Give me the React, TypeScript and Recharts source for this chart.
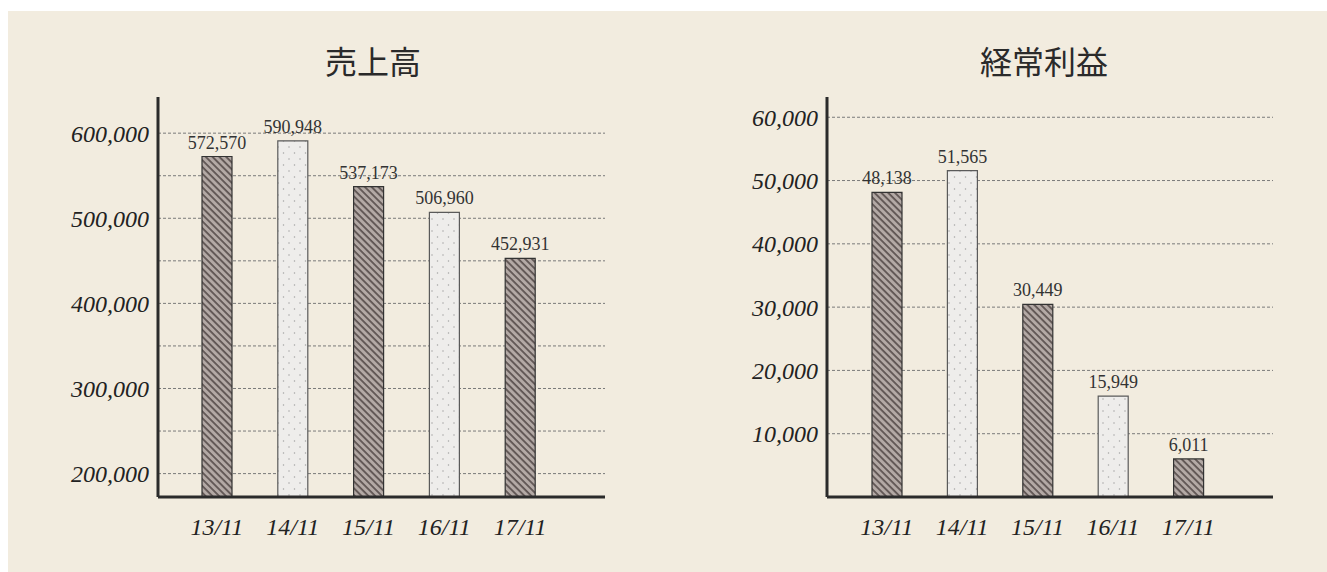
import React from 'react';
import { BarChart, Bar, XAxis, YAxis, CartesianGrid, Cell, LabelList } from 'recharts';

const categories = ['13/11', '14/11', '15/11', '16/11', '17/11'];
const salesValues = [572570, 590948, 537173, 506960, 452931];
const profitValues = [48138, 51565, 30449, 15949, 6011];
const salesTicks = [200000, 250000, 300000, 350000, 400000, 450000, 500000, 550000, 600000];
const profitTicks = [10000, 20000, 30000, 40000, 50000, 60000];
const salesTitle = '売上高';
const profitTitle = '経常利益';

const salesData = categories.map((name, i) => ({ name, value: salesValues[i] }));
const profitData = categories.map((name, i) => ({ name, value: profitValues[i] }));

const fmt = (v: any) => Number(v).toLocaleString('en-US');

const serif = '"Liberation Serif", "Times New Roman", serif';
const axisColor = '#2b2b2b';
const TOP = 97;
const CHART_H = 572;
const BOTTOM = 75;

function Patterns({ id }: { id: string }) {
  return (
    <defs>
      <pattern id={`hatch-${id}`} patternUnits="userSpaceOnUse" width={4.8} height={4.8} patternTransform="rotate(-45)">
        <rect x={0} y={0} width={4.8} height={4.8} fill="#b3a9a5" />
        <line x1={1} y1={0} x2={1} y2={4.8} stroke="#463c3a" strokeWidth={1.4} />
      </pattern>
      <pattern id={`dots-${id}`} patternUnits="userSpaceOnUse" width={11} height={12}>
        <rect x={0} y={0} width={11} height={12} fill="#eeedeb" />
        <circle cx={3} cy={3} r={0.75} fill="#a4a4a4" />
        <circle cx={8.5} cy={9} r={0.75} fill="#a4a4a4" />
      </pattern>
    </defs>
  );
}

function Chart({ id, data, ticks, domain, margin, padding, labelFmt }: any) {
  const gridGen = (props: any) => {
    const scale = props?.yAxis?.scale;
    if (typeof scale === 'function') return ticks.map((t: number) => scale(t));
    const top = props?.offset?.top ?? TOP;
    const h = props?.offset?.height ?? CHART_H - TOP - BOTTOM;
    return ticks.map((t: number) => top + (h * (domain[1] - t)) / (domain[1] - domain[0]));
  };
  return (
    <BarChart width={margin.w} height={CHART_H} data={data} margin={{ top: TOP, right: margin.right, bottom: BOTTOM - 30, left: margin.left }}>
      <Patterns id={id} />
      <CartesianGrid
        vertical={false}
        stroke="#7a7a7a"
        strokeDasharray="3 2"
        strokeWidth={1}
        horizontalCoordinatesGenerator={gridGen}
      />
      <XAxis
        dataKey="name"
        height={30}
        padding={padding}
        axisLine={{ stroke: axisColor, strokeWidth: 3 }}
        tickLine={false}
        tickMargin={15}
        tick={{ fill: '#222', fontSize: 24, fontStyle: 'italic', fontFamily: serif }}
        interval={0}
      />
      <YAxis
        type="number"
        width={60}
        domain={domain}
        allowDataOverflow
        ticks={ticks}
        interval={0}
        tickFormatter={labelFmt}
        axisLine={{ stroke: axisColor, strokeWidth: 3 }}
        tickLine={false}
        tickMargin={3}
        tick={{ fill: '#222', fontSize: 24, fontStyle: 'italic', fontFamily: serif }}
      />
      <Bar dataKey="value" barSize={30} isAnimationActive={false}>
        {data.map((_: any, i: number) => (
          <Cell
            key={i}
            fill={i % 2 === 0 ? `url(#hatch-${id})` : `url(#dots-${id})`}
            stroke={i % 2 === 0 ? '#333' : '#5a5a5a'}
            strokeWidth={1.2}
          />
        ))}
        <LabelList
          dataKey="value"
          position="top"
          offset={8}
          formatter={fmt}
          fill="#333"
          fontSize={18}
          fontFamily={serif}
        />
      </Bar>
    </BarChart>
  );
}

const titleStyle: React.CSSProperties = {
  position: 'absolute',
  top: 44,
  height: 32,
  lineHeight: '32px',
  fontSize: 32,
  fontWeight: 400,
  color: '#2a2a2a',
  fontFamily: '"Noto Sans CJK JP", sans-serif',
  textAlign: 'center',
  width: 300,
};

export default function App() {
  return (
    <div style={{ position: 'absolute', left: 0, top: 0, width: 1327, height: 572, overflow: 'hidden' }}>
      <div style={{ position: 'absolute', left: 8, top: 11, width: 1319, height: 561, background: '#f2ecdf' }} />
      <div style={{ ...titleStyle, left: 373 - 150 }}>{salesTitle}</div>
      <div style={{ ...titleStyle, left: 1044 - 150 }}>{profitTitle}</div>
      <div style={{ position: 'absolute', left: 0, top: 0 }}>
        <Chart
          id="s"
          data={salesData}
          ticks={salesTicks}
          domain={[172500, 642500]}
          margin={{ w: 660, left: 98, right: 55 }}
          padding={{ left: 21, right: 47 }}
          labelFmt={(v: number) => (v % 100000 === 0 ? fmt(v) : '')}
        />
      </div>
      <div style={{ position: 'absolute', left: 660, top: 0 }}>
        <Chart
          id="p"
          data={profitData}
          ticks={profitTicks}
          domain={[0, 63200]}
          margin={{ w: 667, left: 107, right: 54 }}
          padding={{ left: 22, right: 47 }}
          labelFmt={(v: number) => fmt(v)}
        />
      </div>
    </div>
  );
}
